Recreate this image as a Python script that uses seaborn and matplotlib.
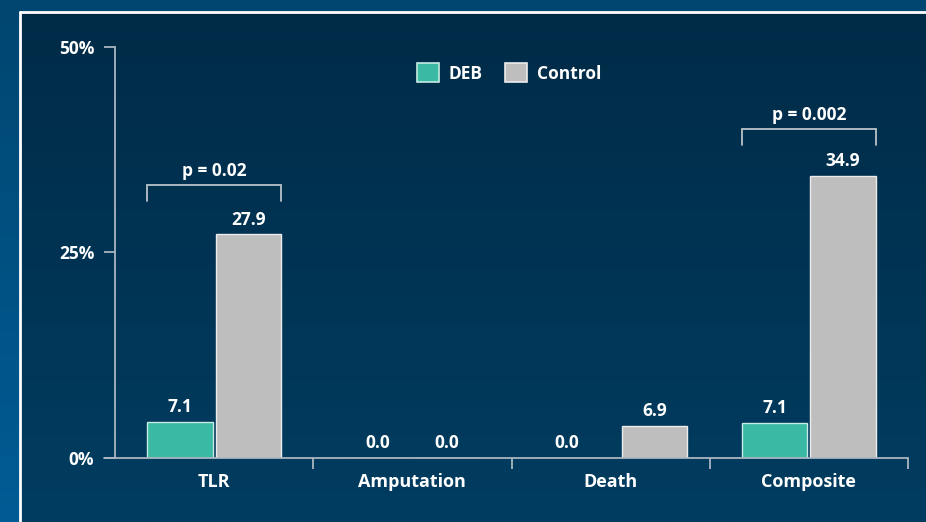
import numpy as np
import pandas as pd
import matplotlib
matplotlib.use("Agg")
import matplotlib.pyplot as plt
import seaborn as sns
from matplotlib.patches import Patch

# ---- data ----
categories = ["TLR", "Amputation", "Death", "Composite"]
groups = ["DEB", "Control"]
deb_labels = ["7.1", "0.0", "0.0", "7.1"]
control_labels = ["27.9", "0.0", "6.9", "34.9"]
# bar heights as drawn in the reference (percent)
deb_heights = [4.4, 0.0, 0.0, 4.3]
control_heights = [27.2, 0.0, 3.9, 34.3]
y_ticks = [0, 25, 50]
y_ticklabels = ["0%", "25%", "50%"]
p_labels = ["p = 0.02", "p = 0.002"]
p_categories = ["TLR", "Composite"]
p_levels = [33.2, 40.0]

sns.set_theme(style="white")
plt.rcParams['font.family'] = ['Open Sans', 'DejaVu Sans']

W, H = 926, 522
fig = plt.figure(figsize=(W / 100, H / 100), dpi=100)

# outer background gradient
bg = fig.add_axes([0, 0, 1, 1], zorder=-10)
top_c = np.array([0x00, 0x46, 0x70]) / 255
bot_c = np.array([0x00, 0x5c, 0x95]) / 255
t = np.linspace(0, 1, 256)[:, None]
grad = top_c[None, None, :] * (1 - t[..., None]) + bot_c[None, None, :] * t[..., None]
grad = np.repeat(grad, 2, axis=1)
bg.imshow(grad, aspect="auto", extent=[0, 1, 0, 1])
bg.set_axis_off()

# inner panel gradient
px0, py_top = 21 / W, 1 - 12 / H
pan = fig.add_axes([px0, 0, 1 - px0, py_top], zorder=-9)
ptop = np.array([0x00, 0x2b, 0x47]) / 255
pbot = np.array([0x00, 0x3d, 0x61]) / 255
pgrad = ptop[None, None, :] * (1 - t[..., None]) + pbot[None, None, :] * t[..., None]
pgrad = np.repeat(pgrad, 2, axis=1)
pan.imshow(pgrad, aspect="auto", extent=[0, 1, 0, 1])
pan.set_axis_off()
# white panel border (left & top)
fig.add_artist(plt.Line2D([20 / W, 20 / W], [0, 1 - 12 / H], color="white", lw=2, transform=fig.transFigure))
fig.add_artist(plt.Line2D([20 / W, 1], [1 - 12 / H, 1 - 12 / H], color="white", lw=2, transform=fig.transFigure))

# main axes
ax = fig.add_axes([115 / W, 1 - 458 / H, (908 - 115) / W, (458 - 47) / H])
ax.set_facecolor("none")

df = pd.DataFrame({
    "category": categories * 2,
    "group": ["DEB"] * 4 + ["Control"] * 4,
    "value": deb_heights + control_heights,
})
teal = "#3ab9a4"
gray = "#bebebf"
sns.barplot(data=df, x="category", y="value", hue="group", order=categories,
            hue_order=groups, palette=[teal, gray], width=0.69, gap=0.045,
            ax=ax, legend=False, saturation=1)

edge_cols = ["#c6ece4", "#ececec"]
for cont, ec in zip(ax.containers, edge_cols):
    for bar in cont:
        bar.set_edgecolor(ec)
        bar.set_linewidth(1.0)

# in the reference the Death pair is spread a little wider apart
i_death = categories.index("Death")
ax.containers[0][i_death].set_x(ax.containers[0][i_death].get_x() - 0.05)
ax.containers[1][i_death].set_x(ax.containers[1][i_death].get_x() + 0.05)

# value labels
txt_kw = dict(color="white", fontweight="bold", fontsize=12.5, ha="center", va="bottom")
for cont, labs in zip(ax.containers, [deb_labels, control_labels]):
    for bar, lab in zip(cont, labs):
        x = bar.get_x() + bar.get_width() / 2
        y = bar.get_height()
        ax.annotate(lab, (x, y), xytext=(0, 4), textcoords="offset points", **txt_kw)

# p-value brackets
for lab, cat, lvl in zip(p_labels, p_categories, p_levels):
    i = categories.index(cat)
    b0 = ax.containers[0][i]
    b1 = ax.containers[1][i]
    x0 = b0.get_x()
    x1 = b1.get_x() + b1.get_width()
    drop = 1.9
    ax.plot([x0, x0, x1, x1], [lvl - drop, lvl, lvl, lvl - drop], color="#b9c3cb", lw=1.3,
            clip_on=False, solid_joinstyle="miter")
    ax.annotate(lab, ((x0 + x1) / 2, lvl), xytext=(0, 4), textcoords="offset points",
                color="white", fontweight="bold", fontsize=12.5, ha="center", va="bottom")

# axes styling
ax.set_xlim(-0.5, 3.5)
ax.set_ylim(0, 50)
ax.set_xlabel("")
ax.set_ylabel("")
for s in ["top", "right"]:
    ax.spines[s].set_visible(False)
axis_col = "#aab6c0"
ax.spines["left"].set_color(axis_col)
ax.spines["bottom"].set_color(axis_col)
ax.spines["left"].set_linewidth(1.3)
ax.spines["bottom"].set_linewidth(1.3)
ax.set_yticks(y_ticks)
ax.set_yticklabels(y_ticklabels)
ax.tick_params(axis="y", which="major", direction="out", length=8, width=1.3, color=axis_col,
               labelcolor="white", labelsize=12.5, pad=7, left=True)
for lbl in ax.get_yticklabels():
    lbl.set_fontweight("bold")
ax.set_xticks(range(len(categories)))
ax.set_xticklabels(categories)
ax.tick_params(axis="x", which="major", length=0, labelcolor="white", labelsize=13, pad=11)
for lbl in ax.get_xticklabels():
    lbl.set_fontweight("bold")
ax.set_xticks([0.5, 1.5, 2.5, 3.5], minor=True)
ax.tick_params(axis="x", which="minor", direction="out", length=8, width=1.3, color=axis_col, bottom=True)
# extend x axis line slightly to the left like the reference
ax.plot([-0.5 - 11 / 198, -0.5], [0, 0], color=axis_col, lw=1.3, clip_on=False)

# legend
handles = [Patch(facecolor=teal, edgecolor=edge_cols[0], lw=1.2),
           Patch(facecolor=gray, edgecolor=edge_cols[1], lw=1.2)]
leg = fig.legend(handles, groups, loc="center", bbox_to_anchor=(509 / W, 1 - 73 / H),
                 ncol=2, frameon=False, fontsize=12.5, handlelength=1.27, handleheight=1.27,
                 handletextpad=0.55, columnspacing=1.3)
for txt in leg.get_texts():
    txt.set_color("white")
    txt.set_fontweight("bold")

fig.savefig("out.png", dpi=100)
